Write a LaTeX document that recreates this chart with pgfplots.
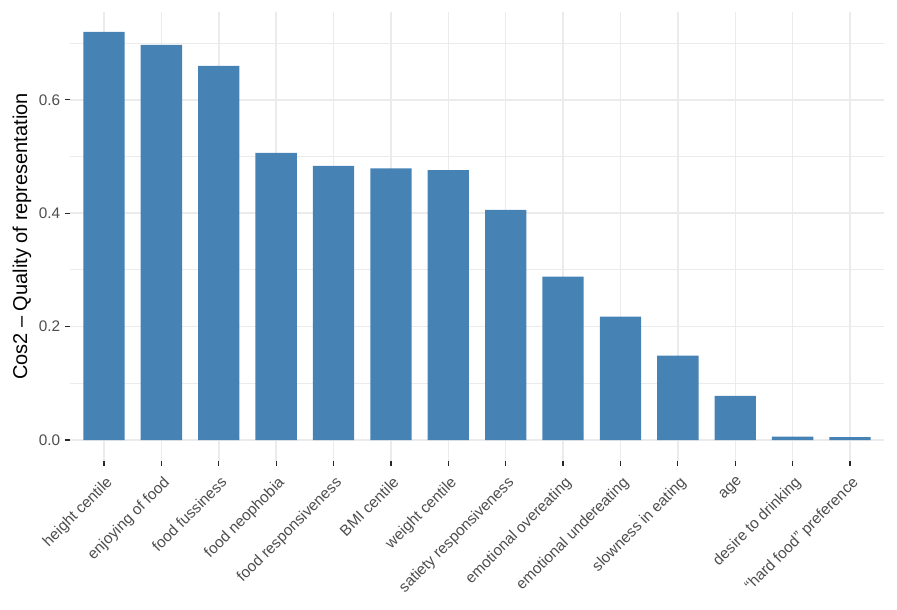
\documentclass[border=0pt]{standalone}
\usepackage{fontspec}
\setmainfont{Liberation Sans}
\usepackage{pgfplots}
\pgfplotsset{compat=1.18}
\definecolor{steel}{RGB}{70,130,180}
\definecolor{gridc}{RGB}{235,235,235}
\definecolor{ticklab}{RGB}{77,77,77}
\definecolor{tickc}{RGB}{40,40,40}
\begin{document}
\begin{tikzpicture}
\begin{axis}[
  name=ax,
  scale only axis,
  width=610.5pt, height=336.75pt,
  xmin=-0.5925, xmax=13.5925,
  ymin=-0.037, ymax=0.7549,
  axis line style={draw=none},
  tick align=outside,
  tick pos=left,
  major tick length=3.8pt,
  xtick style={draw=tickc, line width=0.9pt},
  ytick style={draw=tickc, line width=0.9pt},
  xtick={0,1,2,3,4,5,6,7,8,9,10,11,12,13},
  xticklabels={height centile,enjoying of food,food fussiness,food neophobia,food responsiveness,BMI centile,weight centile,satiety responsiveness,emotional overeating,emotional undereating,slowness in eating,age,desire to drinking,``hard food'' preference},
  ytick={0,0.2,0.4,0.6},
  minor ytick={0.1,0.3,0.5,0.7},
  minor tick length=0pt,
  yticklabel style={/pgf/number format/fixed,/pgf/number format/fixed zerofill,/pgf/number format/precision=1},
  /pgf/number format/assume math mode=true,
  xmajorgrids, ymajorgrids, yminorgrids,
  major grid style={gridc, line width=1.1pt},
  minor grid style={gridc, line width=0.7pt},
  tick label style={font=\fontsize{11.5}{13}\selectfont, text=ticklab},
  xticklabel style={xshift=0.75pt, yshift=-6.9pt, rotate=45, anchor=north east, inner sep=0pt},
  ylabel={Cos2 -- Quality of representation},
  ylabel style={font=\fontsize{15}{18}\selectfont, at={(axis description cs:-0.0590,0.5)}, anchor=center, rotate=0},
]
\addplot[ybar, bar width=0.72, fill=steel, draw=none] coordinates {
(0,0.720) (1,0.697) (2,0.660) (3,0.5065) (4,0.4835) (5,0.479) (6,0.476) (7,0.406) (8,0.288) (9,0.2175) (10,0.149) (11,0.078) (12,0.006) (13,0.005)
};
\end{axis}
\pgfresetboundingbox
\path[use as bounding box] ([xshift=-52.5pt,yshift=-111pt]ax.south west) rectangle ([xshift=9.75pt,yshift=9pt]ax.north east);
\end{tikzpicture}
\end{document}
